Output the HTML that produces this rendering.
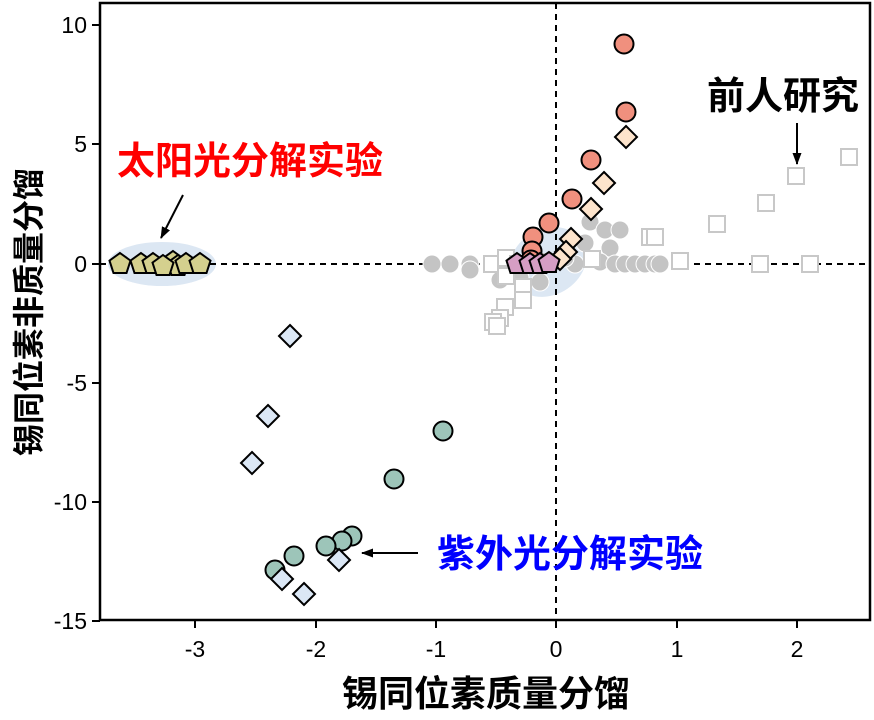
<!DOCTYPE html>
<html><head><meta charset="utf-8"><style>
html,body{margin:0;padding:0;background:#fff;}
svg{display:block;font-family:"Liberation Sans","Noto Sans CJK SC",sans-serif;}
</style></head><body>
<svg width="874" height="720" viewBox="0 0 874 720" xmlns="http://www.w3.org/2000/svg">
<defs>
<marker id="ah" markerWidth="12" markerHeight="9" refX="11" refY="4.5" orient="auto" markerUnits="userSpaceOnUse"><path d="M0,0 L12,4.5 L0,9 Z" fill="#000"/></marker>
<g id="pent"><polygon points="0,-11 10.5,-3.4 6.5,9 -6.5,9 -10.5,-3.4" stroke="#000" stroke-width="2"/></g>
</defs>
<ellipse cx="162" cy="264" rx="54" ry="22" fill="#dce7f3"/>
<ellipse cx="548" cy="262" rx="40" ry="33" fill="#dce7f3" transform="rotate(-30 548 262)"/>
<line x1="100" y1="264" x2="870" y2="264" stroke="#000" stroke-width="2" stroke-dasharray="6,5"/>
<line x1="556" y1="3" x2="556" y2="620" stroke="#000" stroke-width="2" stroke-dasharray="6,5"/>
<g fill="#c4c4c4" stroke="#fff" stroke-width="1">
<circle cx="432" cy="264" r="9"/><circle cx="450" cy="264" r="9"/><circle cx="470" cy="264" r="9"/><circle cx="470" cy="270" r="9"/>
<circle cx="500" cy="280" r="9"/><circle cx="520" cy="278" r="9"/><circle cx="540" cy="282" r="9"/>
<circle cx="505" cy="264" r="9"/><circle cx="590" cy="222" r="9"/><circle cx="605" cy="230" r="9"/><circle cx="620" cy="230" r="9"/>
<circle cx="585" cy="243" r="9"/><circle cx="610" cy="248" r="9"/><circle cx="600" cy="262" r="9"/><circle cx="615" cy="264" r="9"/>
<circle cx="625" cy="264" r="9"/><circle cx="635" cy="264" r="9"/><circle cx="645" cy="264" r="9"/><circle cx="655" cy="264" r="9"/><circle cx="660" cy="264" r="9"/>
<circle cx="575" cy="264" r="9"/><circle cx="565" cy="258" r="9"/>
</g>
<g fill="#fff" stroke="#c8c8c8" stroke-width="2">
<rect x="484" y="256" width="16" height="16"/><rect x="498" y="250" width="16" height="16"/><rect x="510" y="256" width="16" height="16"/>
<rect x="498" y="268" width="16" height="16"/><rect x="515" y="279" width="16" height="16"/><rect x="515" y="292" width="16" height="16"/>
<rect x="497" y="299" width="16" height="16"/><rect x="492" y="310" width="16" height="16"/><rect x="485" y="314" width="16" height="16"/><rect x="489" y="318" width="16" height="16"/>
<rect x="537" y="254" width="16" height="16"/><rect x="584" y="251" width="16" height="16"/>
<rect x="642" y="229" width="16" height="16"/><rect x="647" y="229" width="16" height="16"/>
<rect x="672" y="253" width="16" height="16"/><rect x="709" y="216" width="16" height="16"/><rect x="758" y="195" width="16" height="16"/>
<rect x="788" y="168" width="16" height="16"/><rect x="841" y="149" width="16" height="16"/><rect x="752" y="256" width="16" height="16"/><rect x="802" y="256" width="16" height="16"/>
</g>
<g fill="#f0907e" stroke="#000" stroke-width="2">
<circle cx="624" cy="44" r="9.5"/><circle cx="626" cy="112" r="9.5"/><circle cx="591" cy="160" r="9.5"/><circle cx="572" cy="199" r="9.5"/>
<circle cx="549" cy="223" r="9.5"/><circle cx="533" cy="237" r="9.5"/><circle cx="532" cy="251" r="9.5"/><circle cx="531" cy="260" r="9.5"/>
</g>
<g fill="#fde4cc" stroke="#000" stroke-width="2">
<polygon points="626,126 637,137 626,148 615,137"/><polygon points="604,172 615,183 604,194 593,183"/>
<polygon points="591,198 602,209 591,220 580,209"/><polygon points="571,228 582,239 571,250 560,239"/>
<polygon points="566,241 577,252 566,263 555,252"/><polygon points="560,248 571,259 560,270 549,259"/>
</g>
<g fill="#d69ec4">
<use href="#pent" x="517" y="264"/><use href="#pent" x="530" y="264"/><use href="#pent" x="540" y="264"/><use href="#pent" x="549" y="263"/>
</g>
<g fill="#d4d08e">
<use href="#pent" x="120" y="264"/><use href="#pent" x="141" y="264"/><use href="#pent" x="153" y="264"/><use href="#pent" x="173" y="262"/>
<use href="#pent" x="178" y="266"/><use href="#pent" x="186" y="264"/><use href="#pent" x="163" y="266"/><use href="#pent" x="200" y="264"/>
</g>
<g fill="#9dc5b9" stroke="#000" stroke-width="2">
<circle cx="443" cy="431" r="9.5"/><circle cx="394" cy="479" r="9.5"/><circle cx="352" cy="536" r="9.5"/><circle cx="342" cy="541" r="9.5"/>
<circle cx="326" cy="546" r="9.5"/><circle cx="294" cy="556" r="9.5"/><circle cx="275" cy="570" r="9.5"/>
</g>
<g fill="#dbe7f5" stroke="#000" stroke-width="2">
<polygon points="290,325 301,336 290,347 279,336"/><polygon points="268,405 279,416 268,427 257,416"/>
<polygon points="252,452 263,463 252,474 241,463"/><polygon points="339,549 350,560 339,571 328,560"/>
<polygon points="282,568 293,579 282,590 271,579"/><polygon points="304,583 315,594 304,605 293,594"/>
</g>
<line x1="183" y1="195" x2="161" y2="238" stroke="#000" stroke-width="2" marker-end="url(#ah)"/>
<line x1="797" y1="123" x2="797" y2="164" stroke="#000" stroke-width="2" marker-end="url(#ah)"/>
<line x1="418" y1="553" x2="362" y2="553" stroke="#000" stroke-width="2" marker-end="url(#ah)"/>
<rect x="100" y="3" width="770" height="617" fill="none" stroke="#000" stroke-width="2.5"/>
<g stroke="#000" stroke-width="2">
<line x1="195" y1="620" x2="195" y2="628"/><line x1="316" y1="620" x2="316" y2="628"/><line x1="436" y1="620" x2="436" y2="628"/>
<line x1="556" y1="620" x2="556" y2="628"/><line x1="677" y1="620" x2="677" y2="628"/><line x1="797" y1="620" x2="797" y2="628"/>
<line x1="92" y1="25" x2="100" y2="25"/><line x1="92" y1="144" x2="100" y2="144"/><line x1="92" y1="264" x2="100" y2="264"/>
<line x1="92" y1="383" x2="100" y2="383"/><line x1="92" y1="502" x2="100" y2="502"/><line x1="92" y1="621" x2="100" y2="621"/>
</g>
<g font-size="23" fill="#000" text-anchor="middle">
<text x="195" y="657">-3</text><text x="316" y="657">-2</text><text x="436" y="657">-1</text>
<text x="556" y="657">0</text><text x="677" y="657">1</text><text x="797" y="657">2</text>
</g>
<g font-size="23" fill="#000" text-anchor="end">
<text x="87" y="33">10</text><text x="87" y="152">5</text><text x="87" y="272">0</text>
<text x="87" y="391">-5</text><text x="87" y="510">-10</text><text x="87" y="629">-15</text>
</g>
<text x="486" y="706" font-size="36" font-weight="bold" text-anchor="middle" fill="#000">锡同位素质量分馏</text>
<text transform="translate(40 312) rotate(-90)" font-size="32" font-weight="bold" text-anchor="middle" fill="#000">锡同位素非质量分馏</text>
<text x="117" y="174" font-size="38" font-weight="bold" fill="#ff0000">太阳光分解实验</text>
<text x="707" y="109" font-size="38" font-weight="bold" fill="#000">前人研究</text>
<text x="437" y="567" font-size="38" font-weight="bold" fill="#0000ff">紫外光分解实验</text>
</svg>
</body></html>
